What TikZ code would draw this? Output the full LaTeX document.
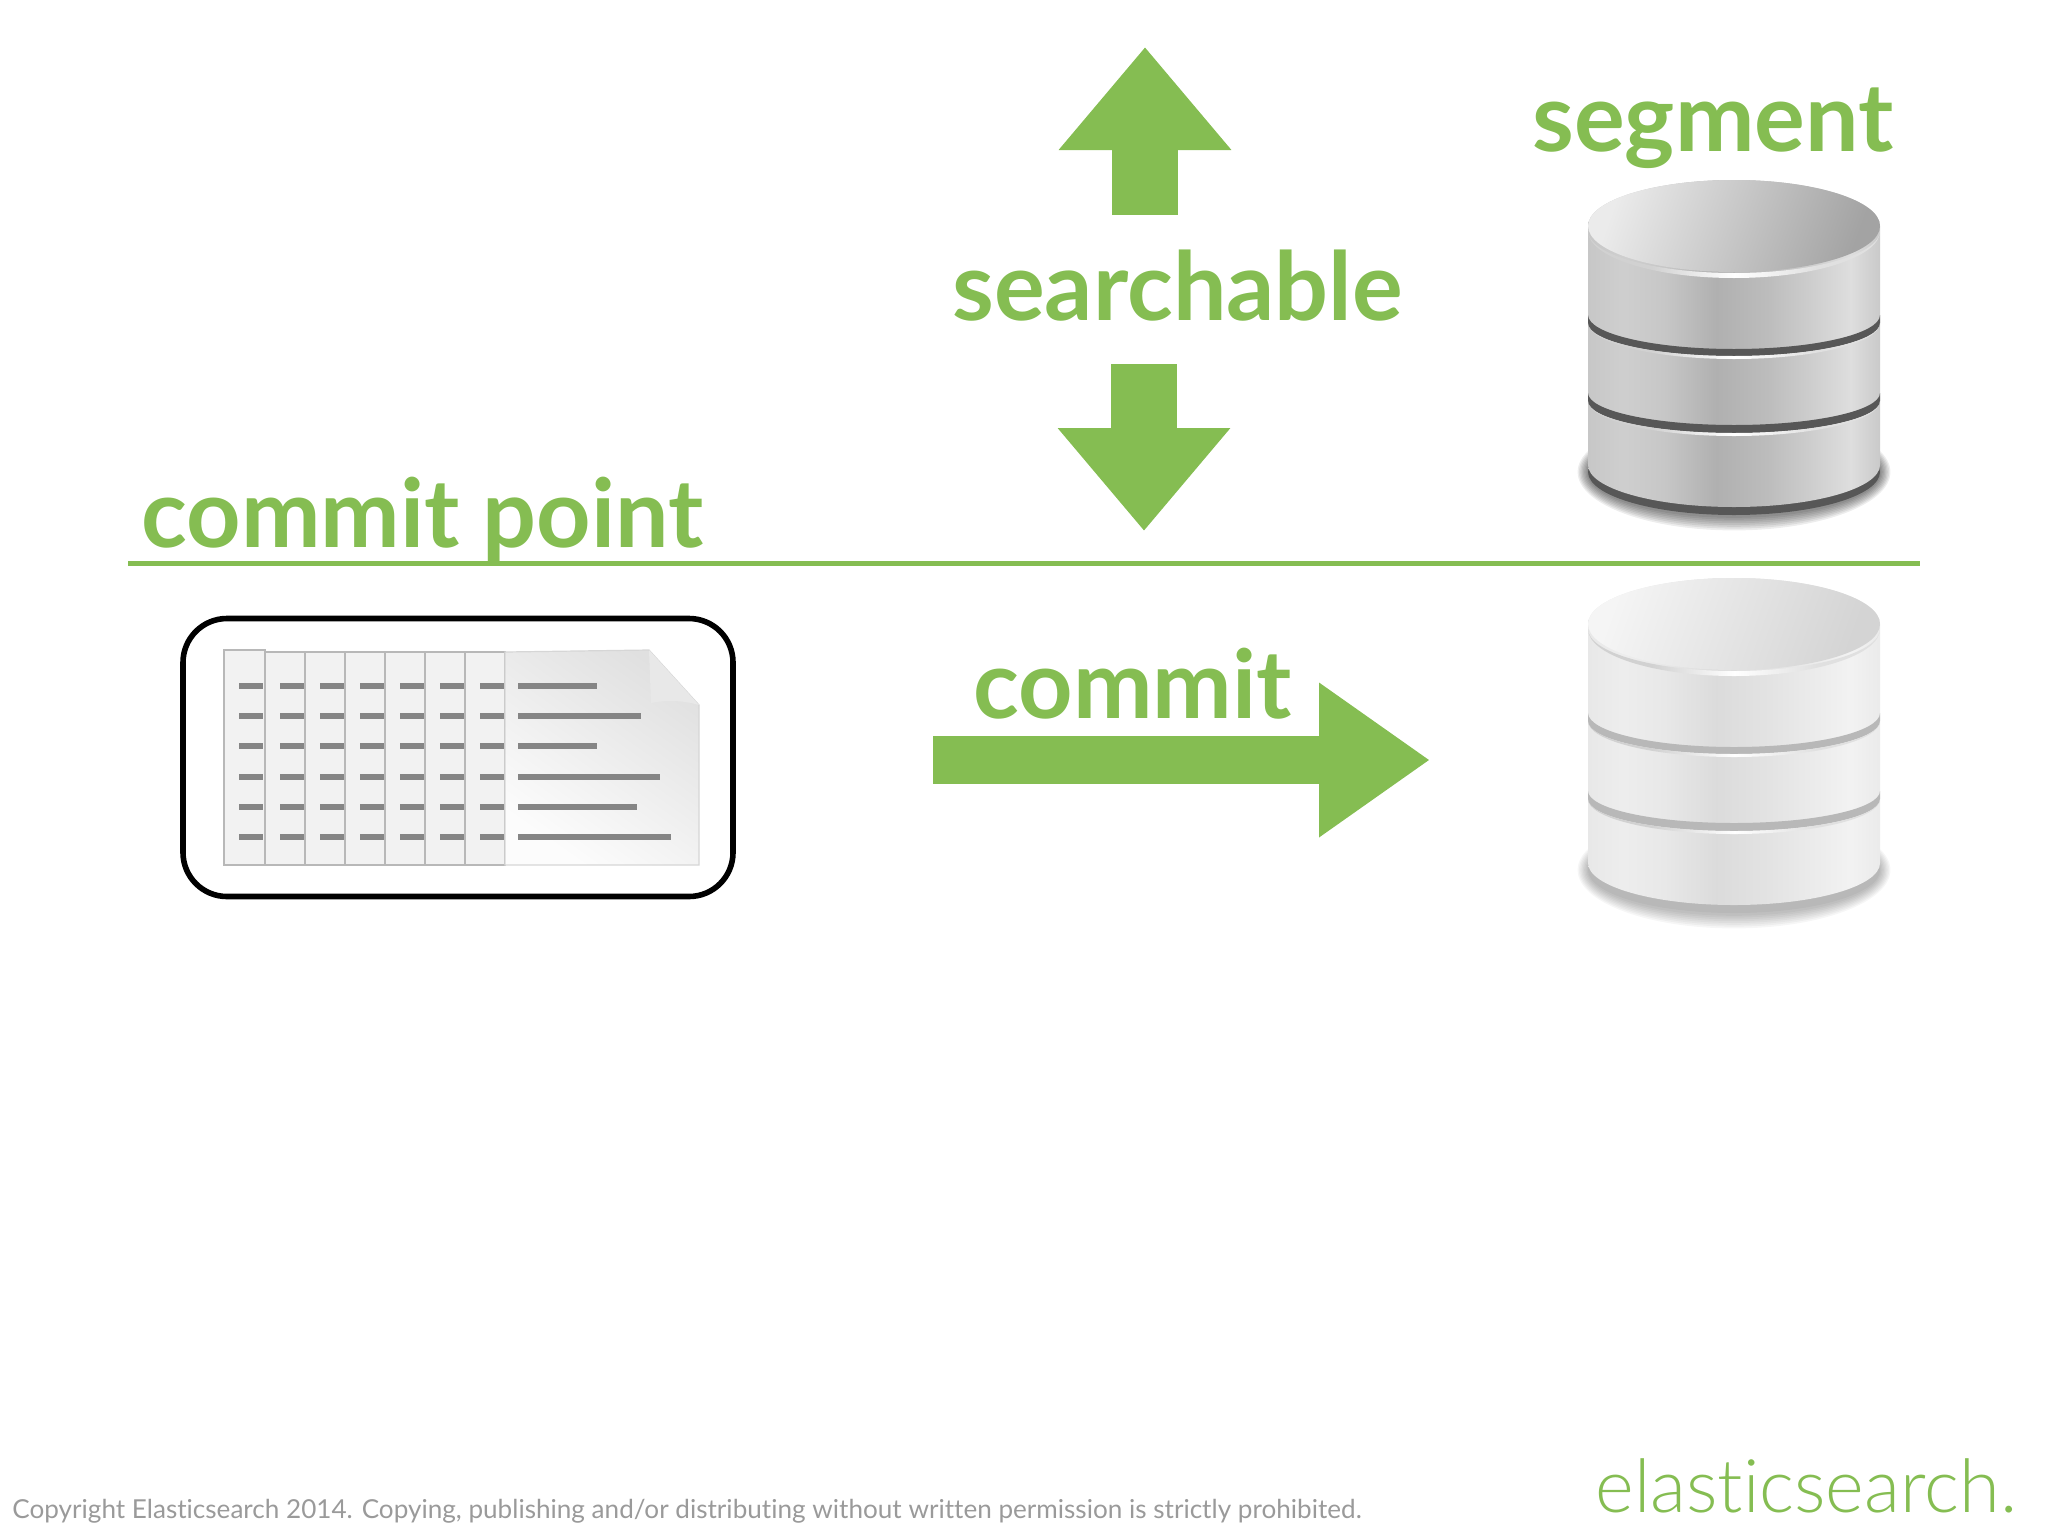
\documentclass[tikz,border=0pt]{standalone}
\usepackage{fontspec}
\usetikzlibrary{arrows.meta}
\setmainfont{Lato}[Ligatures=NoCommon]
\newfontfamily\logofont{Lato Light}[Ligatures=NoCommon]

\definecolor{esgreen}{HTML}{85BD52}
\definecolor{footgray}{HTML}{9A9A9A}

\pgfdeclarehorizontalshading{bodydark}{100bp}{color(0bp)=(black!22); color(25bp)=(black!22); color(31bp)=(black!19); color(38bp)=(black!22); color(47bp)=(black!31); color(56bp)=(black!26); color(70bp)=(black!13); color(75bp)=(black!21); color(100bp)=(black!21)}
\pgfdeclarehorizontalshading{bodylight}{100bp}{color(0bp)=(black!9); color(25bp)=(black!9); color(31bp)=(black!7); color(38bp)=(black!9); color(47bp)=(black!14); color(56bp)=(black!11); color(70bp)=(black!5); color(75bp)=(black!8); color(100bp)=(black!8)}
\pgfdeclarehorizontalshading{rimshine}{100bp}{color(0bp)=(black!18); color(36bp)=(black!18); color(50bp)=(white); color(64bp)=(black!12); color(100bp)=(black!12)}

\tikzset{
  x=0.5pt, y=0.5pt,
  bigword/.style={text=esgreen, font=\bfseries\fontsize{47.5}{47.5}\selectfont, anchor=base west, inner sep=0pt},
  fatarrow/.style={draw=esgreen, line width=33pt, -{Triangle[length=51.5pt, width=83pt, color=esgreen]}},
  rule/.style={draw=esgreen, line width=2.5pt},
  docbox/.style={draw=black, line width=2.8pt, rounded corners=22pt, minimum width=275pt, minimum height=139pt, inner sep=0pt},
  pagestrip/.style={fill=black!5, draw=black!28, line width=0.8pt},
  pageline/.style={draw=black!48, line width=2.6pt},
  pics/dbstack/.style n args={5}{code={
    \foreach \spread in {1,...,8}
      \fill[black, opacity=#5] (0,-246) ellipse [x radius=146+\spread*1.3, y radius=44+\spread*1.8];
    \fill[#4] (0,-246) ellipse [x radius=146, y radius=43];
    \shade[shading=#1] (-146,0) -- (-146,-239) arc [start angle=180, end angle=360, x radius=146, y radius=42] -- (146,0) arc [start angle=0, end angle=180, x radius=146, y radius=46] -- cycle;
    \fill[#4] (-146,-89) arc [start angle=180, end angle=360, x radius=146, y radius=34] -- (146,-97) arc [start angle=0, end angle=-180, x radius=146, y radius=33] -- cycle;
    \fill[#4] (-146,-167) arc [start angle=180, end angle=360, x radius=146, y radius=32] -- (146,-175) arc [start angle=0, end angle=-180, x radius=146, y radius=32] -- cycle;
    \shade[shading=rimshine] (-146,-97) arc [start angle=180, end angle=360, x radius=146, y radius=33] arc [start angle=0, end angle=-180, x radius=146, y radius=36] -- cycle;
    \shade[shading=rimshine] (-146,-175) arc [start angle=180, end angle=360, x radius=146, y radius=32] arc [start angle=0, end angle=-180, x radius=146, y radius=35] -- cycle;
    \shade[shading=rimshine] (-146,-5) arc [start angle=180, end angle=360, x radius=146, y radius=42] arc [start angle=0, end angle=-180, x radius=146, y radius=47] -- cycle;
    \shade[shading=axis, left color=#2, right color=#3, shading angle=70] (0,0) ellipse [x radius=146, y radius=46];
  }}
}

\begin{document}
\begin{tikzpicture}
  \useasboundingbox (0,0) rectangle (2048,-1536);

  \node[bigword] (segment) at (1532,-151) {segment};
  \node[bigword] (searchable) at (952,-320) {searchable};
  \node[bigword] (commitpoint) at (141,-547) {commit point};
  \node[bigword] (commit) at (973,-718) {commit};

  \coordinate (uptail) at (1145,-215);
  \coordinate (uptip) at (1145,-47);
  \coordinate (downtail) at (1144,-364);
  \coordinate (downtip) at (1144,-531);
  \coordinate (committail) at (933,-760);
  \coordinate (committip) at (1430,-760);
  \coordinate (ruleleft) at (128,-563);
  \coordinate (ruleright) at (1920,-563);

  \draw[fatarrow] (uptail) -- (uptip);
  \draw[fatarrow] (downtail) -- (downtip);
  \draw[draw=esgreen, line width=24pt, -{Triangle[length=55.5pt, width=73.5pt, color=esgreen]}] (committail) -- (committip);
  \draw[rule] (ruleleft) -- (ruleright);

  \pic at (1734,-226) {dbstack={bodydark}{black!8}{black!36}{black!66}{.07}};
  \pic at (1734,-624) {dbstack={bodylight}{black!4}{black!17}{black!28}{.035}};

  \node[docbox] (commitbox) at (458,-757.5) {};

  \foreach \x/\y/\n in {224/650/265,265/652/305,305/652/345,345/652/385,385/652/425,425/652/465,465/652/505}
    \filldraw[pagestrip] (\x,-\y) rectangle (\n,-865);
  \shade[top color=black!12, bottom color=black!1, shading angle=-35, draw=black!16, line width=0.6pt] (505,-652) -- (649,-650) -- (699,-705) -- (699,-865) -- (505,-865) -- cycle;
  \fill[black!9] (649,-650) -- (699,-705) .. controls (682,-700) and (665,-700) .. (651,-703) -- cycle;
  \foreach \x in {224,265,305,345,385,425,465}
    \foreach \y in {686,716,746,777,807,837}
      \draw[pageline] (\x+15,-\y) -- (\x+39,-\y);
  \foreach \y/\e in {686/597,716/641,746/597,777/660,807/637,837/671}
    \draw[pageline] (518,-\y) -- (\e,-\y);

  \node[text=footgray, font=\fontsize{13.05}{13.05}\selectfont, anchor=base west, inner sep=0pt] (copyright) at (12,-1518)
    {Copyright Elasticsearch 2014. Copying, publishing and/or distributing without written permission is strictly prohibited.};
  \node[text=esgreen, font=\logofont\fontsize{37}{37}\selectfont, anchor=base west, inner sep=0pt] (logo) at (1595,-1512) {elasticsearch.};
\end{tikzpicture}
\end{document}
